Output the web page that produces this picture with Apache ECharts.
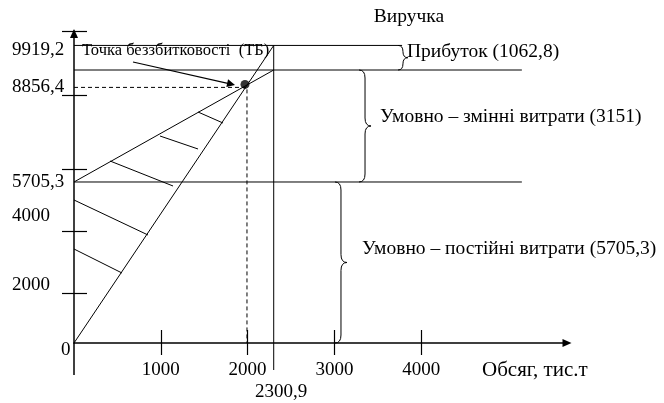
<!DOCTYPE html>
<html><head><meta charset="utf-8">
<script src="https://cdn.jsdelivr.net/npm/echarts@6/dist/echarts.min.js"></script>
<style>html,body{margin:0;padding:0;background:#fff}#c{width:664px;height:403px}</style>
</head><body><div id="c"></div>
<script>
const FONT = '"Liberation Serif","Times New Roman",serif';
// x: volume (thousand t); y: value, as positioned in the (schematic) drawing
const revenue = [[0, 0], [2300.9, 9919.2]];
const totalCost = [[0, 5367], [2300.9, 9100]];
const profitLevel = [[0, 9919.2], [3780, 9919.2]];
const costLevel = [[0, 9100], [5160, 9100]];
const fixedLevel = [[0, 5367], [5160, 5367]];
const volumeLine = [[2300.9, 9919.2], [2300.9, -900]];
const axisTail = [[0, 0], [0, -1066]];
const bepGuide = [[0, 8520], [1993, 8520], [1993, 0]];
const bepPoint = [[1970, 8620]];
const hatches = [
  [[1429, 7700], [1717, 7333]],
  [[991, 6900], [1429, 6467]],
  [[415, 6067], [1141, 5233]],
  [[0, 4767], [853, 3600]],
  [[0, 3133], [553, 2333]]
];
const bepArrow = [[680, 9367], [1810, 8630]];
const braces = [[3790, 9100, 9919.2], [3353, 5367, 9100], [3076, 0, 5367]];
const braceLabels = ['Прибуток (1062,8)', 'Умовно – змінні витрати (3151)', 'Умовно – постійні витрати (5705,3)'];
const xTicks = [1000, 2000, 3000, 4000];
const xTickLabels = ['1000', '2000', '3000', '4000'];
const yTicks = [1667, 3717, 5800, 8267, 10400];
const yLabelValues = [0, 1933, 4233, 5367, 8517, 9767];
const yTickLabels = ['0', '2000', '4000', '5705,3', '8856,4', '9919,2'];

const X_MIN = 0, X_MAX = 5680, Y_MIN = 0, Y_MAX = 10400;
const black = '#000';
function nearestIdx(arr, v) {
  let b = 0; for (let i = 1; i < arr.length; i++) if (Math.abs(arr[i] - v) < Math.abs(arr[b] - v)) b = i; return b;
}
const chart = echarts.init(document.getElementById('c'), null, {renderer: 'canvas'});
const lineSeries = (data, extra) => Object.assign({
  type: 'line', data: data, symbol: 'none', silent: true, clip: false,
  lineStyle: {color: black, width: 1}, animation: false
}, extra || {});
chart.setOption({
  animation: false,
  backgroundColor: '#fff',
  grid: {left: 74, right: 97, top: 31, bottom: 60, containLabel: false, outerBoundsMode: 'none'},
  xAxis: [{
    type: 'value', min: X_MIN, max: X_MAX,
    axisLine: {show: true, onZero: false, symbol: ['none', 'triangle'], symbolSize: [8, 9],
      lineStyle: {color: black, width: 1.5}},
    axisTick: {show: true, inside: false, length: 12, customValues: xTicks, lineStyle: {color: black, width: 1.2}},
    axisLabel: {show: true, customValues: xTicks, margin: 18,
      formatter: v => xTickLabels[nearestIdx(xTicks, v)],
      color: black, fontSize: 19, fontFamily: FONT},
    splitLine: {show: false}
  }, {
    type: 'value', min: X_MIN, max: X_MAX, position: 'bottom',
    axisLine: {show: false, onZero: false},
    axisTick: {show: true, inside: true, length: 13, customValues: xTicks, lineStyle: {color: black, width: 1.2}},
    axisLabel: {show: false}, splitLine: {show: false}
  }],
  yAxis: [{
    type: 'value', min: Y_MIN, max: Y_MAX, position: 'left',
    axisLine: {show: true, onZero: false, symbol: ['none', 'triangle'], symbolSize: [8, 9], symbolOffset: [0, -2.5],
      lineStyle: {color: black, width: 1.5}},
    axisTick: {show: true, inside: false, length: 12, customValues: yTicks, lineStyle: {color: black, width: 1.2}},
    axisLabel: {show: true, customValues: yLabelValues, align: 'left', margin: 62,
      formatter: v => { const t = yTickLabels[nearestIdx(yLabelValues, v)]; return t === '0' ? '{z|0}' : t; },
      rich: {z: {padding: [14, 0, 0, 49], fontSize: 19, fontFamily: FONT, color: black}},
      color: black, fontSize: 19, fontFamily: FONT},
    splitLine: {show: false}
  }, {
    type: 'value', min: Y_MIN, max: Y_MAX, position: 'left',
    axisLine: {show: false, onZero: false},
    axisTick: {show: true, inside: true, length: 13, customValues: yTicks, lineStyle: {color: black, width: 1.2}},
    axisLabel: {show: false}, splitLine: {show: false}
  }],
  series: [
    lineSeries(revenue),
    lineSeries(totalCost),
    lineSeries(profitLevel),
    lineSeries(costLevel),
    lineSeries(fixedLevel),
    lineSeries(volumeLine),
    lineSeries(axisTail, {lineStyle: {color: black, width: 1.5}}),
    lineSeries(bepGuide, {lineStyle: {color: black, width: 1, type: [4, 3]}}),
    {
      type: 'lines', coordinateSystem: 'cartesian2d', silent: true, animation: false, clip: false,
      symbol: 'none', lineStyle: {color: black, width: 1, opacity: 1},
      data: hatches.map(c => ({coords: c}))
    },
    {
      type: 'lines', coordinateSystem: 'cartesian2d', silent: true, animation: false, clip: false,
      symbol: ['none', 'triangle'], symbolSize: 8,
      lineStyle: {color: black, width: 1.2, opacity: 1}, itemStyle: {color: black},
      data: [{coords: bepArrow}]
    },
    {
      type: 'scatter', data: bepPoint, symbol: 'circle', symbolSize: 9, silent: true,
      itemStyle: {color: black}, animation: false
    },
    {
      type: 'custom', silent: true, animation: false, clip: false,
      data: braces,
      encode: {x: 0, y: [1, 2]},
      renderItem: function (params, api) {
        const x = api.value(0), y1 = api.value(1), y2 = api.value(2);
        const top = api.coord([x, y2]), bot = api.coord([x, y1]);
        const X = top[0], T = top[1], B = bot[1], M = (T + B) / 2;
        const h = B - T;
        const w = Math.min(6, h / 5), r = Math.min(8, h / 4);
        const d = 'M' + (X - w) + ' ' + T + ' Q' + X + ' ' + T + ' ' + X + ' ' + (T + r) +
          ' L' + X + ' ' + (M - r) + ' Q' + X + ' ' + M + ' ' + (X + w) + ' ' + M +
          ' Q' + X + ' ' + M + ' ' + X + ' ' + (M + r) + ' L' + X + ' ' + (B - r) +
          ' Q' + X + ' ' + B + ' ' + (X - w) + ' ' + B;
        return {type: 'path', shape: {pathData: d}, style: {stroke: black, fill: 'none', lineWidth: 1}};
      }
    }
  ],
  graphic: [
    {type: 'text', x: 409, y: 17, style: {text: 'Виручка', fill: black, font: '19.5px ' + FONT, align: 'center', verticalAlign: 'middle'}},
    {type: 'text', x: 82, y: 51, style: {text: 'Точка беззбитковості  (ТБ)', fill: black, font: '16.5px ' + FONT, align: 'left', verticalAlign: 'middle'}},
    {type: 'text', x: 407, y: 52, style: {text: braceLabels[0], fill: black, font: '19.5px ' + FONT, align: 'left', verticalAlign: 'middle'}},
    {type: 'text', x: 380, y: 117, style: {text: braceLabels[1], fill: black, font: '19.5px ' + FONT, align: 'left', verticalAlign: 'middle'}},
    {type: 'text', x: 362, y: 249, style: {text: braceLabels[2], fill: black, font: '19.5px ' + FONT, align: 'left', verticalAlign: 'middle'}},
    {type: 'text', x: 482, y: 370, style: {text: 'Обсяг, тис.т', fill: black, font: '21px ' + FONT, align: 'left', verticalAlign: 'middle'}},
    {type: 'text', x: 281, y: 392, style: {text: '2300,9', fill: black, font: '19px ' + FONT, align: 'center', verticalAlign: 'middle'}}
  ]
});
</script></body></html>
